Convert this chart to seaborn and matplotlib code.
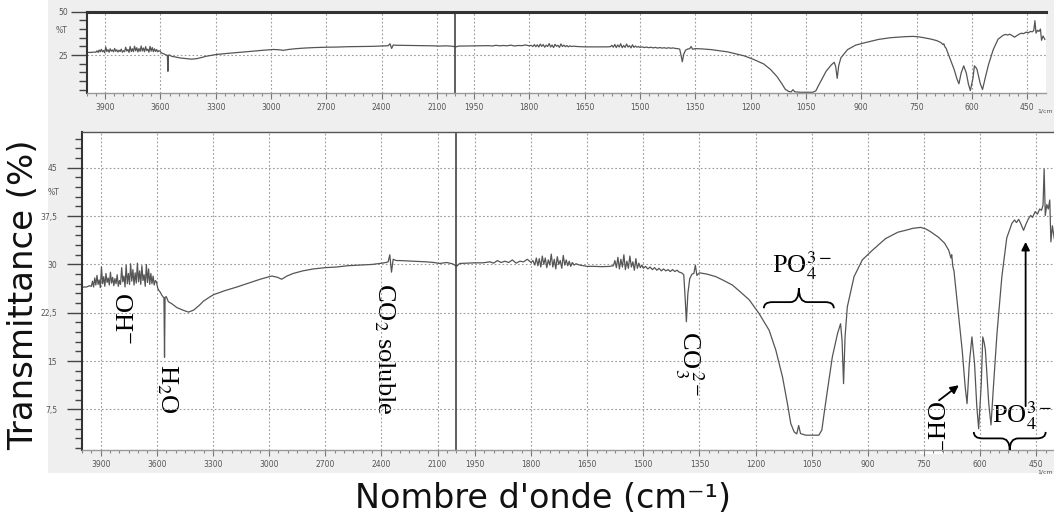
import numpy as np
import pandas as pd
import matplotlib
matplotlib.use('Agg')
import matplotlib.pyplot as plt
import seaborn as sns
from matplotlib.patches import Rectangle, PathPatch
from matplotlib.path import Path
from matplotlib.ticker import FixedLocator, FixedFormatter

# Spectre IR : nombre d'onde (cm-1) et transmittance (%)
wn_oh = [4000, 3990, 3975, 3960, 3950, 3944, 3938, 3932, 3926, 3920, 3914, 3908, 3902,
         3896, 3890, 3884, 3878, 3872, 3866, 3860, 3854, 3848, 3842, 3836, 3830, 3824,
         3818, 3812, 3806, 3800, 3794, 3788, 3782, 3776, 3770, 3764, 3758, 3752, 3746,
         3740, 3734, 3728, 3722, 3716, 3710, 3704, 3698, 3692, 3686, 3680, 3674, 3668,
         3662, 3656, 3650, 3644, 3638, 3632, 3626, 3620, 3614, 3608, 3602, 3596, 3590]
t_oh = [26.4, 26.5, 26.5, 26.7, 26.6, 27.4, 26.5, 27.9, 26.8, 28.3, 26.9, 27.6, 26.4,
        29.6, 27.0, 28.1, 26.6, 28.6, 27.2, 27.9, 26.8, 28.8, 27.1, 28.0, 26.7, 27.8,
        27.0, 28.4, 26.6, 27.5, 26.9, 29.5, 27.3, 28.2, 26.5, 29.9, 27.0, 28.6, 26.9,
        30.1, 27.4, 29.2, 26.8, 28.7, 27.1, 30.2, 27.3, 29.0, 26.9, 29.8, 27.5, 28.4,
        26.6, 30.0, 27.2, 29.3, 26.9, 28.6, 27.0, 28.2, 26.8, 27.5, 27.3, 26.4, 26.0]

wn_h2o = [3582, 3573, 3562, 3559, 3556, 3550, 3538, 3520, 3493, 3460, 3431, 3404, 3375,
          3351, 3320, 3297, 3240, 3172, 3110, 3048, 2986, 2955, 2933, 2905, 2871, 2820,
          2764, 2700, 2639, 2580, 2515, 2450, 2408, 2375, 2364, 2355, 2346, 2337, 2320,
          2301, 2230, 2159, 2120, 2088, 2052, 2020, 2008]
t_h2o = [25.7, 25.2, 24.8, 15.6, 24.9, 25.0, 24.2, 23.9, 23.3, 22.9, 22.6, 22.9, 23.6,
         24.3, 24.9, 25.3, 25.9, 26.5, 27.1, 27.7, 28.2, 28.0, 27.7, 28.2, 28.6, 29.0,
         29.3, 29.5, 29.6, 29.8, 29.9, 30.0, 30.15, 30.3, 30.4, 31.5, 28.8, 30.8, 30.6,
         30.6, 30.5, 30.4, 30.3, 30.15, 30.3, 30.1, 29.9]

wn_mid = [1999, 1991, 1970, 1950, 1929, 1910, 1900, 1890, 1880, 1870, 1860, 1850, 1840,
          1830, 1820, 1810, 1800, 1795, 1790, 1786, 1782, 1778, 1774, 1770, 1766, 1762,
          1758, 1754, 1750, 1746, 1742, 1738, 1734, 1730, 1726, 1722, 1718, 1714, 1710,
          1706, 1702, 1698, 1694, 1690, 1685, 1680, 1670, 1660, 1650, 1630, 1610, 1590,
          1580, 1576, 1572, 1568, 1564, 1560, 1556, 1552, 1548, 1544, 1540, 1536, 1532,
          1528, 1524, 1520, 1516, 1512, 1508, 1504, 1500, 1494, 1488, 1482, 1476, 1470,
          1464, 1458, 1452, 1446, 1440, 1434, 1428, 1422, 1416, 1410, 1404]
t_mid = [29.7, 30.15, 30.2, 30.25, 30.25, 30.4, 30.2, 30.6, 30.3, 30.5, 30.3, 30.7, 30.2,
         30.5, 30.4, 30.8, 30.3, 30.6, 29.9, 31.0, 29.8, 30.9, 29.6, 31.3, 30.0, 31.0,
         29.5, 30.7, 29.9, 31.6, 29.6, 30.8, 29.3, 31.2, 30.0, 30.6, 29.4, 31.4, 29.9,
         30.7, 29.8, 30.5, 29.7, 30.3, 29.9, 30.1, 29.9, 29.8, 29.7, 29.7, 29.65, 29.7,
         29.8, 30.6, 29.5, 31.1, 29.3, 30.8, 29.6, 31.5, 29.2, 30.5, 29.4, 31.3, 29.6,
         30.4, 29.1, 30.9, 29.4, 30.2, 29.5, 29.9, 29.4, 29.7, 29.3, 29.6, 29.2, 29.5,
         29.1, 29.4, 29.0, 29.3, 29.0, 29.2, 28.9, 29.2, 28.9, 29.1, 28.8]

wn_po4 = [1398, 1392, 1388, 1385, 1381, 1376, 1370, 1365, 1361, 1357, 1350, 1330, 1306,
          1285, 1262, 1240, 1217, 1191, 1164, 1146, 1128, 1115, 1106, 1097, 1090, 1085,
          1080, 1066, 1045, 1031, 1023, 1017, 1008, 995, 981, 973, 969, 965, 961, 955,
          937, 915, 888, 853, 820, 799, 780, 759, 745, 733, 711, 695, 684, 678, 676,
          673, 670, 662, 648, 640, 635, 629, 622, 615, 609, 604, 597, 593, 589, 586,
          577, 571, 564, 555, 542, 529, 515, 508, 503, 497, 492, 484, 478, 471, 465,
          460, 453, 447, 441, 436, 432, 429, 426, 422, 418, 414, 411, 407, 402]
t_po4 = [28.7, 28.4, 24.5, 21.1, 25.5, 27.8, 28.5, 28.6, 29.9, 28.3, 28.7, 28.5, 28.1,
         27.5, 26.8, 25.7, 24.5, 22.4, 19.8, 16.7, 12.5, 8.4, 5.3, 4.0, 3.7, 5.0,
         3.75, 3.5, 3.5, 3.5, 4.3, 6.85, 10.5, 15.65, 19.3, 20.8, 18.2, 11.5, 18.75, 23.4,
         28.1, 30.7, 32.2, 34.0, 35.0, 35.3, 35.6, 35.75, 35.5, 35.1, 34.2, 33.3, 32.2, 31.0, 31.5,
         29.7, 29.0, 24.5, 16.7, 11.0, 8.4, 14.6, 18.75, 14.6, 8.0, 4.5, 11.5, 18.75, 17.8, 16.7,
         8.4, 5.1, 11.5, 19.3, 28.1, 34.1, 36.4, 36.9, 36.5, 37.0, 36.4, 35.3, 36.2, 37.1, 37.6,
         37.3, 38.2, 37.8, 38.6, 38.4, 39.2, 44.8, 37.6, 39.3, 38.6, 40.0, 33.5, 36.0, 34.0]

spectre = pd.DataFrame({
    'wn': np.concatenate([wn_oh, wn_h2o, wn_mid, wn_po4]).astype(float),
    't': np.concatenate([t_oh, t_h2o, t_mid, t_po4]).astype(float),
})

# Graduations
major_x = [3900, 3600, 3300, 3000, 2700, 2400, 2100, 1950, 1800, 1650, 1500,
           1350, 1200, 1050, 900, 750, 600, 450]
minor_x = list(range(425, 2000, 25)) + list(range(2000, 4001, 50))
major_y = [7.5, 15, 22.5, 30, 37.5, 45]
major_y_labels = ['7,5', '15', '22,5', '30', '37,5', '45']
minor_y = [1.5 * k for k in range(1, 34)]
top_y = [25, 50]
top_minor_y = [5, 10, 15, 20, 30, 35, 40, 45]


# Echelle cassée : au-dessus de 2000 cm-1 l'axe est comprimé d'un facteur 2
def fwd(w):
    w = np.asarray(w, dtype=float)
    return np.where(w > 2000, 2000 + (w - 2000) / 2, w)


def inv(u):
    u = np.asarray(u, dtype=float)
    return np.where(u > 2000, 2000 + (u - 2000) * 2, u)


def brace(ax, x0, x1, y, tip, end, lw=1.3):
    # accolade horizontale de x0 à x1, pointe à y+tip, extrémités à y+end
    dx = x1 - x0
    xm = (x0 + x1) / 2
    c = 0.12 * dx
    verts = [(x0, y + end), (x0, y), (x0 + c, y),
             (xm - c, y), (xm, y), (xm, y + tip),
             (xm, y), (xm + c, y),
             (x1 - c, y), (x1, y), (x1, y + end)]
    codes = [Path.MOVETO, Path.CURVE3, Path.CURVE3,
             Path.LINETO, Path.CURVE3, Path.CURVE3,
             Path.CURVE3, Path.CURVE3,
             Path.LINETO, Path.CURVE3, Path.CURVE3]
    ax.add_patch(PathPatch(Path(verts, codes), facecolor='none', edgecolor='black',
                           lw=lw, transform=ax.transData, clip_on=False, zorder=3))


plt.rcParams['mathtext.fontset'] = 'stix'
plt.rcParams['font.family'] = ['DejaVu Sans']

W, H = 1054, 521
fig = plt.figure(figsize=(W / 100, H / 100), dpi=100)
fig.patches.append(Rectangle((48 / W, 1 - 473 / H), 1 - 48 / W, 473 / H, transform=fig.transFigure,
                             facecolor='#efefef', edgecolor='none', zorder=-1))

ax_top = fig.add_axes([86.6 / W, 1 - 93.3 / H, 959 / W, 81.6 / H])
ax = fig.add_axes([82 / W, 1 - 450 / H, (1055 - 82) / W, 318.3 / H])

for a in (ax_top, ax):
    sns.lineplot(data=spectre, x='wn', y='t', ax=a, color='#555555', linewidth=0.9,
                 estimator=None, errorbar=None, sort=False, zorder=2)
    a.set_xscale('function', functions=(fwd, inv))
    a.set_xlim(4000, 400)
    a.xaxis.set_major_locator(FixedLocator(major_x))
    a.xaxis.set_major_formatter(FixedFormatter([str(v) for v in major_x]))
    a.xaxis.set_minor_locator(FixedLocator(minor_x))
    a.set_xlabel('')
    a.set_ylabel('')
    a.set_facecolor('white')
    a.grid(True, which='major', linestyle=(0, (1.5, 2.0)), color='#9a9a9a', linewidth=0.8)
    a.axvline(2000, color='#444444', lw=1.2, zorder=2.5)
    a.tick_params(axis='x', which='major', direction='out', length=4, width=0.8,
                  color='#777777', labelsize=5.5, labelcolor='#555555', pad=3)
    a.tick_params(axis='x', which='minor', direction='out', length=2, width=0.8, color='#888888')
    a.spines['left'].set_color('#333333')
    a.spines['left'].set_linewidth(1.5)
    a.spines['bottom'].set_color('#999999')
    a.spines['bottom'].set_linewidth(1.0)
    a.spines['right'].set_visible(False)

# Panneau du haut (vue d'ensemble)
ax_top.set_ylim(2.9, 50)
ax_top.yaxis.set_major_locator(FixedLocator(top_y))
ax_top.yaxis.set_major_formatter(FixedFormatter(['25', '50']))
ax_top.yaxis.set_minor_locator(FixedLocator(top_minor_y))
ax_top.tick_params(axis='y', which='major', direction='out', length=11.5, width=1.0,
                   color='#444444', labelsize=5.5, labelcolor='#555555', pad=2)
ax_top.tick_params(axis='y', which='minor', direction='out', length=5.5, width=1.0, color='#444444')
ax_top.spines['top'].set_color('#333333')
ax_top.spines['top'].set_linewidth(2.2)
ax_top.text(-0.026, 39.4, '%T', transform=ax_top.get_yaxis_transform(), fontsize=5.5,
            color='#555555', ha='center', va='center')

# Panneau principal
ax.set_ylim(1.2, 50.6)
ax.yaxis.set_major_locator(FixedLocator(major_y))
ax.yaxis.set_major_formatter(FixedFormatter(major_y_labels))
ax.yaxis.set_minor_locator(FixedLocator(minor_y))
ax.tick_params(axis='y', which='major', direction='out', length=10.8, width=1.0,
               color='#444444', labelsize=5.5, labelcolor='#555555', pad=7)
ax.tick_params(axis='y', which='minor', direction='out', length=5, width=1.0, color='#444444')
ax.spines['top'].set_color('#555555')
ax.spines['top'].set_linewidth(1.0)
ax.text(-0.029, 41.2, '%T', transform=ax.get_yaxis_transform(), fontsize=5.5,
        color='#555555', ha='center', va='center')

# Annotations des bandes
kw = dict(fontfamily='Liberation Serif', fontsize=19, ha='center', va='center', zorder=1.5,
          bbox=dict(facecolor='white', edgecolor='none', pad=1.5))
ax.text(3790, 21.7, 'OH$^{-}$', rotation=270, **kw)
ax.text(3545, 10.6, 'H$_2$O', rotation=270, **kw)
ax.text(2382, 17.0, 'CO$_2$ soluble', rotation=270, **kw)
ax.text(1377, 14.7, r'CO$_3^{\,2-}$', rotation=270, **kw)
ax.text(1076, 29.9, 'PO$_4^{3-}$', **kw)
ax.text(726, 5.0, 'OH$^{-}$', rotation=270, **kw)
ax.text(489, 6.6, 'PO$_4^{3-}$', **kw)

brace(ax, 1178, 991, 24.15, 2.15, -0.95)
brace(ax, 617, 425, 3.0, -1.8, 1.0)

arrow = dict(arrowstyle='-|>', color='black', lw=1.3, mutation_scale=12, shrinkA=0, shrinkB=0)
ax.annotate('', xy=(657, 11.25), xytext=(710, 8.9), arrowprops=arrow, zorder=3)
ax.annotate('', xy=(478.5, 33.5), xytext=(478.5, 8.0), arrowprops=arrow, zorder=3)

fig.text(1045 / W, 1 - 111 / H, '1/cm', fontsize=4.5, color='#555555', ha='center', va='center')
fig.text(1045 / W, 1 - 472 / H, '1/cm', fontsize=4.5, color='#555555', ha='center', va='center')

fig.text(24 / W, 1 - 295 / H, 'Transmittance (%)', rotation=90, ha='center', va='center',
         fontsize=24.5, color='#111111')
fig.text(543 / W, 1 - 498 / H, "Nombre d'onde (cm\u207b\u00b9)", ha='center', va='center',
         fontsize=24, color='#111111')

fig.savefig('out.png', dpi=100)
